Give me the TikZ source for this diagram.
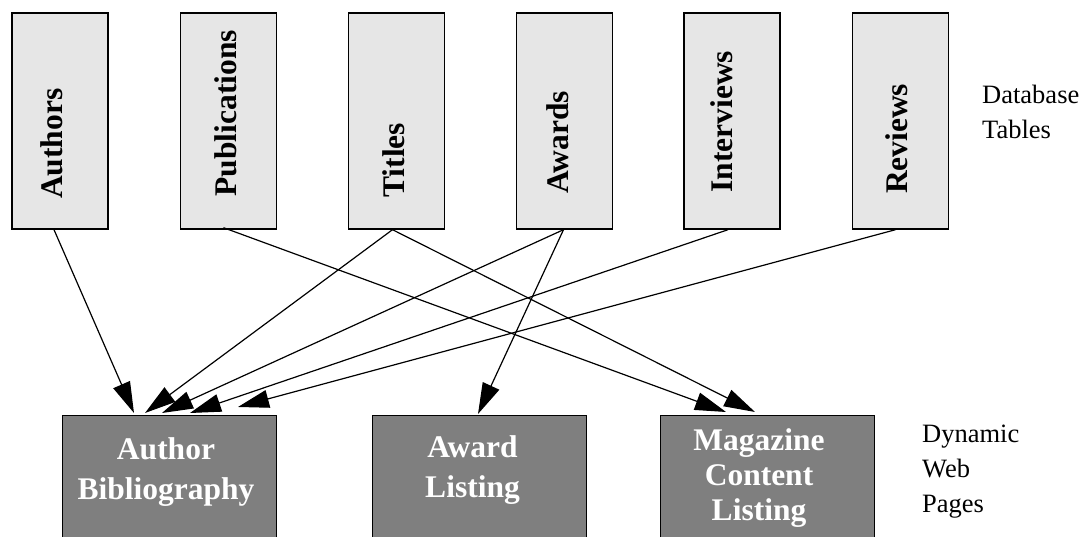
\documentclass[tikz,border=0pt]{standalone}
\usepackage{fontspec}
\setmainfont{Liberation Serif}
\usepackage[svgnames]{xcolor}
\usetikzlibrary{arrows.meta}
\definecolor{tablegray}{HTML}{E6E6E6}
\definecolor{pagegray}{HTML}{7F7F7F}

\begin{document}
\begin{tikzpicture}[x=1pt,y=1pt,
  dbtable/.style={draw,line width=1.4pt,fill=tablegray,
    minimum width=96pt,minimum height=216pt},
  dbname/.style={rotate=90,anchor=west,inner sep=0pt,
    font=\fontsize{31.5}{38}\selectfont\bfseries},
  webpage/.style={draw,line width=1pt,fill=pagegray,anchor=north,
    minimum width=214pt,minimum height=170pt},
  pagename/.style={anchor=north,inner sep=0pt,align=center,text=white,
    font=\fontsize{31.5}{39.5}\selectfont\bfseries},
  note/.style={anchor=north west,inner sep=0pt,align=left,
    font=\fontsize{26.5}{35}\selectfont},
  link/.style={line width=1.2pt,-{Triangle[length=31pt,width=18pt]}}]%
  \coordinate (A) at (0,0); \coordinate (B) at (1084,537);
  \path[use as bounding box] (A) rectangle (B);
  \clip (A) rectangle (B);

  \node[dbtable] (authors)    at (60,416) {};
  \node[dbtable] (pubs)       at (228.5,416) {};
  \node[dbtable] (titles)     at (396.5,416) {};
  \node[dbtable] (awards)     at (564.5,416) {};
  \node[dbtable] (interviews) at (732,416) {};
  \node[dbtable] (reviews)    at (900.5,416) {};
  \node[dbname] at ([xshift=-8.5pt,yshift=30.5pt]authors.south) {Authors};
  \node[dbname] at ([xshift=-2.5pt,yshift=33pt]pubs.south) {Publications};
  \node[dbname] at ([xshift=-2.5pt,yshift=32pt]titles.south) {Titles};
  \node[dbname] at ([xshift=-7pt,yshift=36pt]awards.south) {Awards};
  \node[dbname] at ([xshift=-10pt,yshift=37pt]interviews.south) {Interviews};
  \node[dbname] at ([xshift=-3.5pt,yshift=35.5pt]reviews.south) {Reviews};
  \node[note] (tables) at (982,452) {Database\\Tables};

  \node[webpage] (bib)   at (169,122) {};
  \node[webpage] (award) at (479,122) {};
  \node[webpage] (mag)   at (767.5,122) {};
  \node[pagename] at (166,99.5) {Author\\Bibliography};
  \node[pagename] at (472.5,101.5) {Award\\Listing};
  \node[pagename,font=\fontsize{31.5}{35}\selectfont\bfseries]
    at (759,108.5) {Magazine\\Content\\Listing};
  \node[note] (pages) at (922,112) {Dynamic\\Web\\Pages};

  \draw[link] ([xshift=-6pt]authors.south) -- ([xshift=-35pt,yshift=2pt]bib.north);
  \draw[link] ([xshift=-5pt,yshift=2pt]pubs.south) -- ([xshift=-41.5pt,yshift=3pt]mag.north);
  \draw[link] ([xshift=-4pt]titles.south) -- ([xshift=-24pt,yshift=2pt]bib.north);
  \draw[link] ([xshift=-4pt]titles.south) -- ([xshift=-12.5pt,yshift=3pt]mag.north);
  \draw[link] ([xshift=-1pt]awards.south) -- ([xshift=-7pt,yshift=2pt]bib.north);
  \draw[link] ([xshift=-1pt]awards.south) -- ([xshift=-1pt,yshift=1pt]award.north);
  \draw[link] ([xshift=-4pt]interviews.south) -- ([xshift=21pt,yshift=2pt]bib.north);
  \draw[link] ([xshift=-5pt]reviews.south) -- ([xshift=69pt,yshift=8pt]bib.north);
\end{tikzpicture}
\end{document}
